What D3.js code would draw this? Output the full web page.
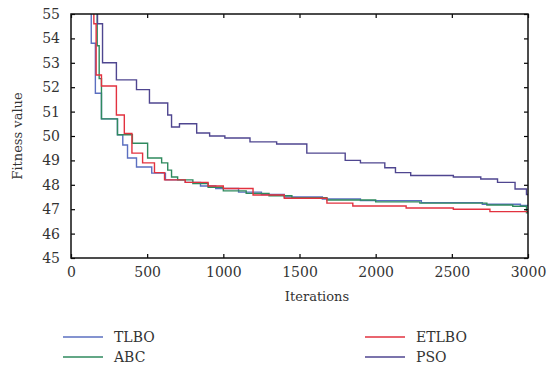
<!DOCTYPE html>
<html>
<head>
<script src="https://d3js.org/d3.v7.min.js"></script>
<style>
  body { margin: 0; background: #fff; }
  text { font-family: "DejaVu Serif", "Liberation Serif", serif; fill: #333; }
</style>
</head>
<body>
<svg width="552" height="369"></svg>
<script>
// best fitness per iteration as [iteration, value] steps
var tlbo = [[130,56],[133,53.8],[160,51.75],[200,50.7],[305,50.05],[340,49.63],[371,49.1],[430,48.73],[530,48.48],[620,48.2],[750,48.1],[850,47.95],[950,47.85],[1100,47.7],[1250,47.6],[1400,47.5],[1650,47.42],[1900,47.35],[2300,47.27],[2700,47.2],[2950,47.15],[3000,47.15]];
var abc = [[140,56],[172,53.7],[185,52.35],[200,50.7],[305,50.05],[403,49.7],[503,49.1],[595,48.9],[635,48.6],[660,48.32],[700,48.2],[800,48.05],[900,47.9],[1000,47.75],[1150,47.65],[1300,47.55],[1450,47.47],[1680,47.38],[2000,47.3],[2290,47.25],[2730,47.17],[2900,47.12],[2990,46.85],[3000,46.85]];
var etlbo = [[145,56],[150,54.6],[165,52.5],[200,52.05],[298,50.86],[350,50.1],[400,49.3],[470,48.9],[548,48.5],[614,48.2],[750,48.1],[900,47.95],[1000,47.85],[1195,47.58],[1400,47.45],[1680,47.25],[1850,47.13],[2200,47.05],[2510,47.0],[2750,46.9],[3000,46.9]];
var pso = [[150,56],[174,54.6],[207,53.0],[298,52.3],[430,51.9],[515,51.35],[635,50.86],[660,50.37],[712,50.5],[825,50.12],[910,50.0],[1010,49.92],[1175,49.76],[1350,49.67],[1548,49.3],[1800,49.0],[1900,48.9],[2060,48.7],[2130,48.5],[2230,48.38],[2510,48.32],[2690,48.24],[2800,48.1],[2915,47.83],[2990,47.6],[3000,47.6]];

var xTicks = [0, 500, 1000, 1500, 2000, 2500, 3000];
var yTicks = [45, 46, 47, 48, 49, 50, 51, 52, 53, 54, 55];

var series = [
  { name: "TLBO", data: tlbo, color: "#5b6fc0" },
  { name: "ABC", data: abc, color: "#2f8a5e" },
  { name: "ETLBO", data: etlbo, color: "#e2323f" },
  { name: "PSO", data: pso, color: "#4f4690" }
];

var margin = { left: 71, top: 14, right: 24, bottom: 111 };
var width = 552 - margin.left - margin.right;
var height = 369 - margin.top - margin.bottom;

var svg = d3.select("svg");
var g = svg.append("g").attr("transform", "translate(" + margin.left + "," + margin.top + ")");

var x = d3.scaleLinear().domain([0, 3000]).range([0, width]);
var y = d3.scaleLinear().domain([45, 55]).range([height, 0]);

svg.append("defs").append("clipPath").attr("id", "plot")
  .append("rect").attr("width", width).attr("height", height);

var line = d3.line()
  .x(function(d) { return x(d[0]); })
  .y(function(d) { return y(d[1]); })
  .curve(d3.curveStepAfter);

g.append("g").attr("clip-path", "url(#plot)")
  .selectAll("path")
  .data(series)
  .enter()
  .append("path")
  .attr("d", function(d) { return line(d.data); })
  .attr("fill", "none")
  .attr("stroke", function(d) { return d.color; })
  .attr("stroke-width", 1.4);

// axes, ticks pointing in on all four sides
function styleAxis(sel) {
  sel.select(".domain").remove();
  sel.selectAll("line").attr("stroke", "#000").attr("stroke-width", 1.2);
  sel.selectAll("text").attr("font-size", "14px").attr("fill", "#3a3a3a");
}
g.append("g").attr("transform", "translate(0," + height + ")")
  .call(d3.axisBottom(x).tickValues(xTicks).tickSize(-4).tickPadding(9).tickFormat(d3.format("d")))
  .call(styleAxis);
g.append("g")
  .call(d3.axisTop(x).tickValues(xTicks).tickSize(-4).tickFormat(""))
  .call(styleAxis);
g.append("g")
  .call(d3.axisLeft(y).tickValues(yTicks).tickSize(-4).tickPadding(11))
  .call(styleAxis);
g.append("g").attr("transform", "translate(" + width + ",0)")
  .call(d3.axisRight(y).tickValues(yTicks).tickSize(-4).tickFormat(""))
  .call(styleAxis);

g.append("rect")
  .attr("width", width).attr("height", height)
  .attr("fill", "none").attr("stroke", "#111").attr("stroke-width", 1.5);

svg.append("text")
  .attr("x", 317).attr("y", 301)
  .attr("text-anchor", "middle").attr("font-size", "13px")
  .text("Iterations");

svg.append("text")
  .attr("transform", "translate(22," + (margin.top + height / 2) + ") rotate(-90)")
  .attr("text-anchor", "middle").attr("font-size", "13px")
  .text("Fitness value");

// legend, two columns
var legendPos = [[63, 337], [63, 357], [365, 337], [365, 357]];
var legend = svg.selectAll(".legend")
  .data(series)
  .enter()
  .append("g")
  .attr("transform", function(d, i) { return "translate(" + legendPos[i][0] + "," + legendPos[i][1] + ")"; });
legend.append("line")
  .attr("x1", 0).attr("x2", 40)
  .attr("stroke", function(d) { return d.color; })
  .attr("stroke-width", 1.4);
legend.append("text")
  .attr("x", 51).attr("y", 5)
  .attr("font-size", "14px")
  .text(function(d) { return d.name; });
</script>
</body>
</html>
